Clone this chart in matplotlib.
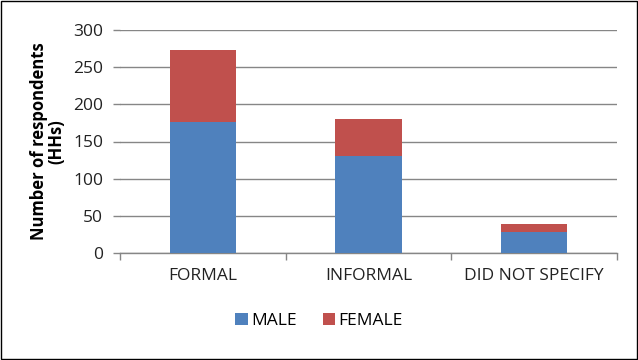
import matplotlib.pyplot as plt
import numpy as np

categories = ['FORMAL', 'INFORMAL', 'DID NOT SPECIFY']
male = [176, 131, 28]
female = [97, 49, 11]
yticks = [0, 50, 100, 150, 200, 250, 300]

plt.rcParams['font.family'] = ['Open Sans', 'DejaVu Sans']

fig = plt.figure(figsize=(6.38, 3.6), dpi=100)
ax = fig.add_axes([120/638, 1-253/360, 497/638, 223/360])

x = np.arange(len(categories))
ax.bar(x, male, width=0.4, color='#4F81BD', label='MALE', zorder=3)
ax.bar(x, female, width=0.4, bottom=male, color='#C0504D', label='FEMALE', zorder=3)

ax.set_xlim(-0.5, 2.5)
ax.set_ylim(0, 300)
ax.set_yticks(yticks)
ax.set_yticklabels([str(v) for v in yticks], fontsize=12.5, color='#222222')
ax.set_xticks(x)
ax.set_xticklabels(categories, fontsize=12.5, color='#222222')
ax.set_xticks([-0.5, 0.5, 1.5, 2.5], minor=True)
ax.tick_params(axis='x', which='major', length=0, pad=11)
ax.tick_params(axis='x', which='minor', length=5, color='#868686', width=1)
ax.tick_params(axis='y', length=5, color='#868686', width=1, pad=7)

ax.grid(axis='y', color='#868686', linewidth=1, zorder=0)
for s in ['top', 'right', 'left']:
    ax.spines[s].set_visible(False)
ax.spines['bottom'].set_color('#868686')
ax.spines['bottom'].set_linewidth(1)

ax.set_ylabel('Number of respondents\n(HHs)', fontsize=12, fontweight='bold', labelpad=6, linespacing=0.95)

fig.legend(loc='center', bbox_to_anchor=(0.5, 1-321/360), ncol=2, frameon=False,
           fontsize=12.5, handlelength=0.72, handleheight=0.72, handletextpad=0.2, columnspacing=1.5)

border = plt.Rectangle((0.002, 0.003), 0.996, 0.994, transform=fig.transFigure,
                       fill=False, edgecolor='black', linewidth=1)
fig.patches.append(border)

plt.savefig('out.png', dpi=100)
